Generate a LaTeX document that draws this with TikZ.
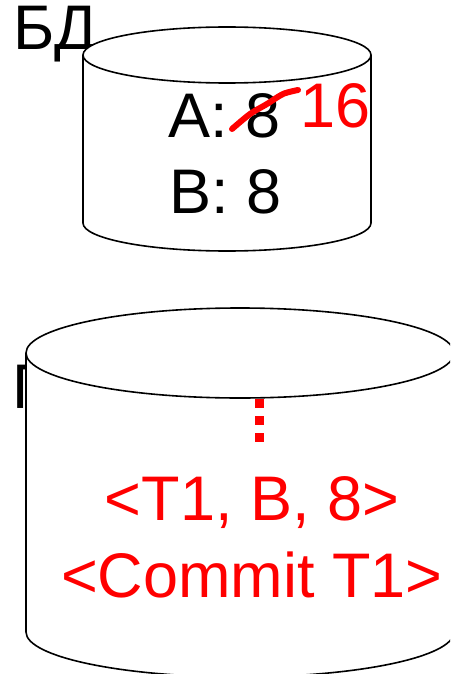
\documentclass[tikz,border=0pt]{standalone}
\usepackage{fontspec}
\setmainfont{Liberation Sans}
\definecolor{pured}{RGB}{255,0,0}
\begin{document}
\begin{tikzpicture}[x=1pt,y=-1pt,
  big/.style={font=\fontsize{63}{75}\selectfont, inner sep=0pt},
  cyl/.style={draw=black, line width=1.6pt, fill=white},
  redtxt/.style={big, text=pured}]
\useasboundingbox (0,0) rectangle (450,674);
\clip (0,0) rectangle (450,674);
% labels behind cylinders
\node[big, anchor=base west] (bd) at (13,50) {БД};
\node[big, anchor=base west] (g) at (12,408) {Г};
% top cylinder
\fill[white] (83,55) -- (83,223) arc[start angle=180,end angle=0,x radius=144,y radius=28] -- (371,55) -- cycle;
\draw[cyl] (227,55) ellipse[x radius=144,y radius=28];
\draw[line width=1.6pt] (83,55) -- (83,223) arc[start angle=180,end angle=0,x radius=144,y radius=28] -- (371,55);
% bottom cylinder
\fill[white] (26,353) -- (26,632) arc[start angle=180,end angle=0,x radius=214,y radius=45] -- (454,353) -- cycle;
\draw[cyl] (240,353) ellipse[x radius=214,y radius=45];
\draw[line width=1.6pt] (26,353) -- (26,632) arc[start angle=180,end angle=0,x radius=214,y radius=45] -- (454,353);
% DB contents
\node[big, anchor=base] (a) at (225,138) {A: 8};
\node[big, anchor=base] (b) at (226,213) {B: 8};
\node[redtxt, anchor=base west] (n16) at (300,128) {16};
\draw[pured, line width=6pt, line cap=round] plot[smooth] coordinates {(232,129) (250,114) (267,104) (283,94) (298,90)};
% log contents
\draw[pured, line width=9pt, dash pattern=on 9pt off 8pt] (259.5,399) -- (259.5,443);
\node[redtxt, anchor=base] (t1) at (252,520) {<T1, B, 8>};
\node[redtxt, anchor=base] (c1) at (252,597) {<Commit T1>};
\end{tikzpicture}
\end{document}
